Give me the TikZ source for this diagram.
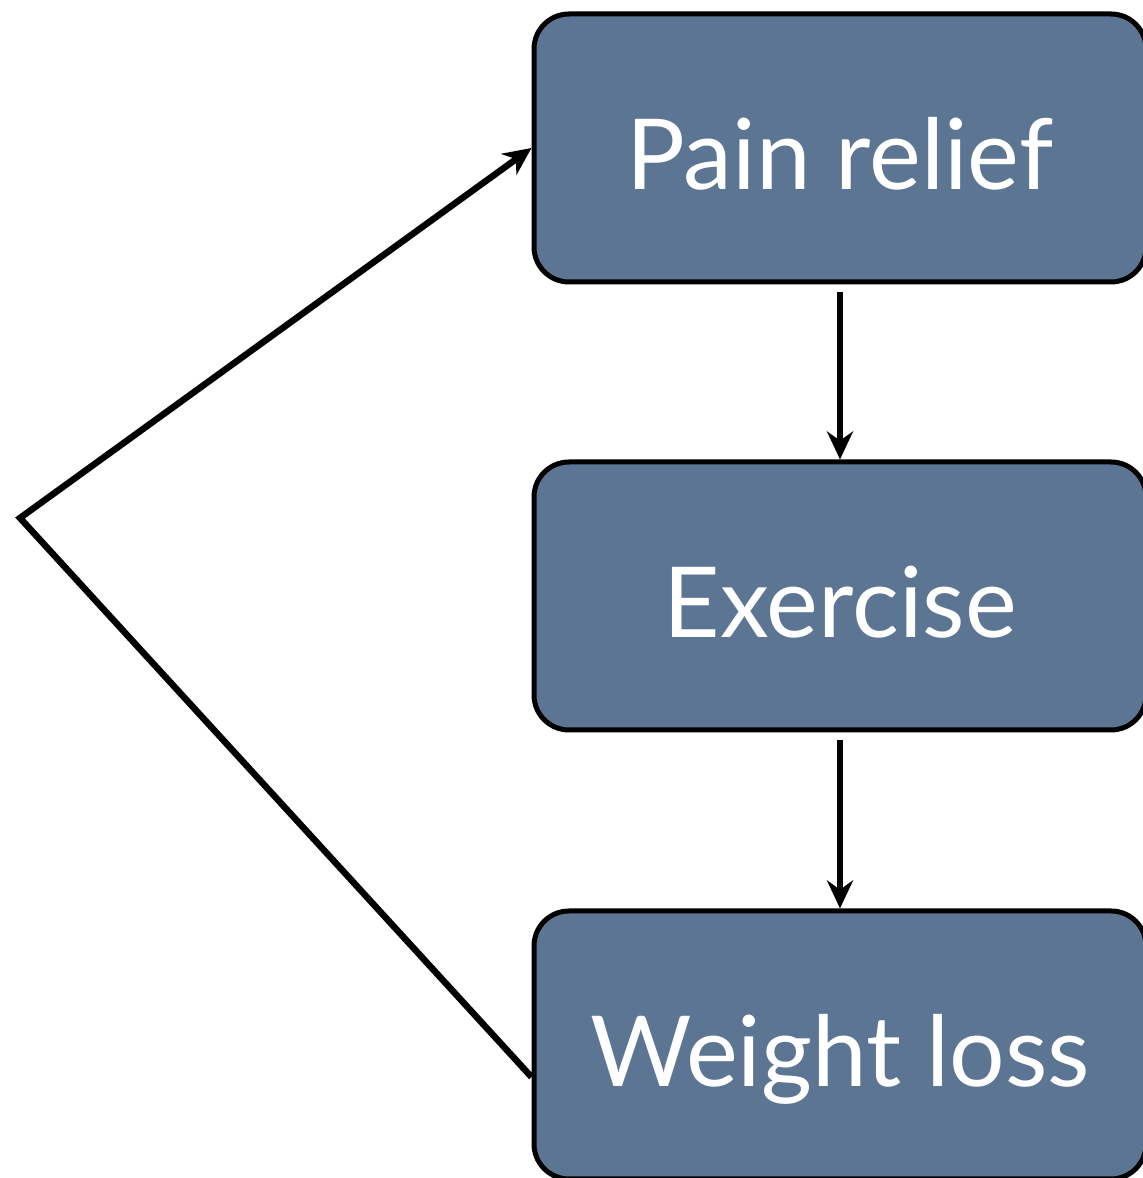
\documentclass[tikz,border=0pt]{standalone}
\usepackage{fontspec}
\setmainfont{Lato}
\usetikzlibrary{arrows.meta}
\definecolor{slate}{RGB}{91,117,147}

\begin{document}
\begin{tikzpicture}[x=1pt, y=1pt,
    stage/.style ={rectangle, rounded corners=35pt, draw, line width=5pt, fill=slate,
      minimum width=612pt, minimum height=268pt, text height=84pt, text depth=0pt,
      text=white, font=\fontsize{98}{110}\selectfont},
    link/.style ={line width=6.5pt, -{Stealth[length=28pt, width=26pt]}}]
   \useasboundingbox (0,0) rectangle (1143,1178);
   \node[stage] (P) at (840,1030) {Pain relief};
   \node[stage] (E) at (840,582)  {Exercise};
   \node[stage] (W) at (840,133)  {Weight loss};
   \coordinate (V) at (20,660);
   \draw[link, shorten <=8pt] (P) to (E);
   \draw[link, shorten <=8pt] (E) to (W);
   \draw[link, line join=miter] ([yshift=-32pt]W.west) -- (V) -- (P.west);
 \end{tikzpicture}
\end{document}
